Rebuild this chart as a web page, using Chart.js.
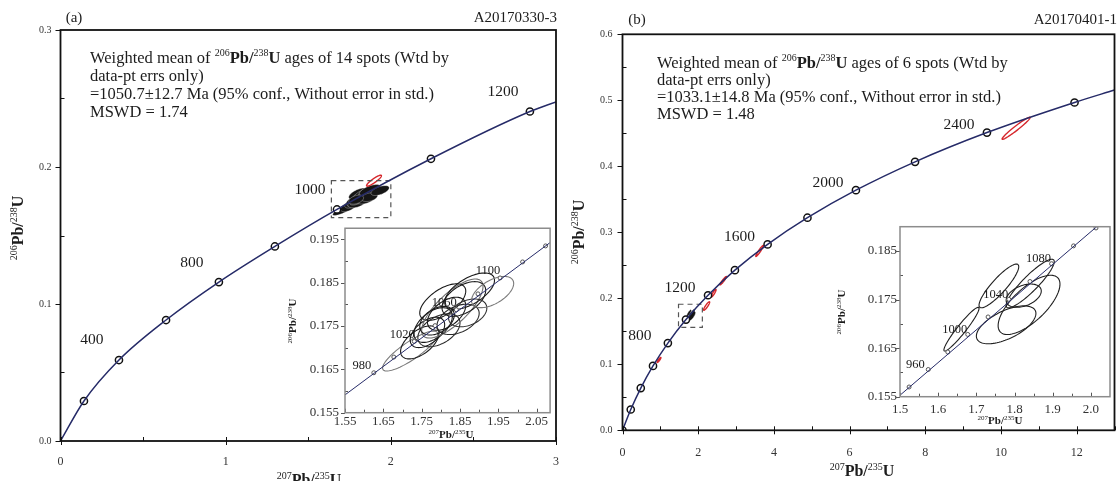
<!DOCTYPE html>
<html>
<head>
<meta charset="utf-8">
<script src="https://cdn.jsdelivr.net/npm/chart.js@4.4.1/dist/chart.umd.min.js"></script>
<style>
  body { margin: 0; background: #fff; width: 1120px; height: 481px; overflow: hidden; position: relative; }
  canvas { position: absolute; }
</style>
</head>
<body>
<canvas id="mainA" width="562" height="481" style="left:0;top:0"></canvas>
<canvas id="mainB" width="554" height="481" style="left:566px;top:0"></canvas>
<canvas id="insetA" width="287" height="240" style="left:270px;top:220px"></canvas>
<canvas id="insetB" width="300" height="210" style="left:815px;top:218px"></canvas>
<script>
// U-Pb concordia plots for two samples, each with a zoomed inset

// ---- (a) A20170330-3 ----
const markA_x = [0.142, 0.354, 0.639, 0.959, 1.298, 1.674, 2.243, 2.842];
const markA_y = [0.0292, 0.0591, 0.0883, 0.1160, 0.1420, 0.1690, 0.2060, 0.2405];
const endA_x = 3.0, endA_y = 0.2475;
const ageTextA = ['400', '800', '1000', '1200'];
const ageIdxA = [1, 3, 5, 7];

// 14 analyses: 207Pb/235U, 206Pb/238U, half-extents and error correlation
const ellA_x   = [1.720, 1.745, 1.765, 1.780, 1.795, 1.805, 1.815, 1.830, 1.845, 1.860, 1.875, 1.870, 1.935, 1.790];
const ellA_sx  = [0.072, 0.050, 0.045, 0.050, 0.055, 0.060, 0.050, 0.080, 0.055, 0.057, 0.065, 0.050, 0.055, 0.045];
const ellA_y   = [0.1692, 0.1712, 0.1735, 0.1752, 0.1740, 0.1805, 0.1778, 0.1790, 0.1765, 0.1812, 0.1830, 0.1780, 0.1828, 0.1762];
const ellA_sy  = [0.0046, 0.0038, 0.0035, 0.0040, 0.0038, 0.0042, 0.0038, 0.0068, 0.0035, 0.0040, 0.0042, 0.0032, 0.0036, 0.0033];
const ellA_rho = [0.85, 0.55, 0.50, 0.50, 0.45, 0.60, 0.50, 0.75, 0.40, 0.50, 0.60, 0.35, 0.55, 0.40];
// excluded spot
const redA_x = [1.898], redA_sx = [0.045], redA_y = [0.190], redA_sy = [0.004], redA_rho = [0.9];
const boxA_x = [1.64, 2.00], boxA_y = [0.163, 0.190];

// inset (a): concordia ticks every 20 Ma
const inA_age = ['980', '1000', '1020', '1040', '1060', '1080', '1100', '1120', '1140'];
const inA_x = [1.6252, 1.6774, 1.7307, 1.7850, 1.8404, 1.8969, 1.9545, 2.0133, 2.0732];
const inA_y = [0.16420, 0.16782, 0.17142, 0.17506, 0.17872, 0.18238, 0.18605, 0.18974, 0.19343];
const inA_lineX = [1.55, 2.085], inA_lineY = [0.1591, 0.1942];
const inA_labelIdx = [0, 2, 4, 6];

// ---- (b) A20170401-1 ----
const markB_age = ['0', '200', '400', '600', '800', '1000', '1200', '1400', '1600', '1800', '2000', '2200', '2400', '2600'];
const markB_x = [0, 0.218, 0.483, 0.806, 1.199, 1.677, 2.260, 2.970, 3.834, 4.887, 6.168, 7.730, 9.630, 11.944];
const markB_y = [0, 0.0315, 0.0640, 0.0975, 0.1321, 0.1678, 0.2046, 0.2426, 0.2817, 0.3221, 0.3638, 0.4068, 0.4511, 0.4967];
const endB_x = 13.0, endB_y = 0.5155;
const ageIdxB = [4, 6, 8, 10, 12];

const ellB_x   = [1.661, 1.759, 1.841, 1.838, 1.824, 1.778];
const ellB_sx  = [0.046, 0.052, 0.063, 0.081, 0.046, 0.078];
const ellB_y   = [0.1689, 0.1778, 0.1783, 0.1739, 0.1758, 0.1698];
const ellB_sy  = [0.0045, 0.0045, 0.0050, 0.0061, 0.0024, 0.0039];
const ellB_rho = [0.95, 0.88, 0.90, 0.70, 0.40, 0.60];
const redB_x   = [0.965, 2.223, 2.406, 2.661, 3.622, 10.40];
const redB_sx  = [0.050, 0.080, 0.066, 0.087, 0.100, 0.370];
const redB_y   = [0.1066, 0.1883, 0.2076, 0.2267, 0.2717, 0.4576];
const redB_sy  = [0.0038, 0.0064, 0.0058, 0.0064, 0.0083, 0.0167];
const redB_rho = [0.90, 0.90, 0.90, 0.95, 0.95, 0.97];
const boxB_x = [1.48, 2.11], boxB_y = [0.156, 0.191];

const inB_age = ['940', '960', '980', '1000', '1020', '1040', '1060', '1080', '1100', '1120'];
const inB_x = [1.5238, 1.5740, 1.6252, 1.6774, 1.7307, 1.7850, 1.8404, 1.8969, 1.9545, 2.0133];
const inB_y = [0.15700, 0.16060, 0.16420, 0.16782, 0.17142, 0.17506, 0.17872, 0.18238, 0.18605, 0.18974];
const inB_lineX = [1.5, 2.03], inB_lineY = [0.1553, 0.1910];
const inB_labelIdx = [1, 3, 5, 7];

// axis ticks: labelled values and unlabelled minor ones
const tickA_x = [0, 1, 2, 3],                 minorA_x = [0.5, 1.5, 2.5];
const tickA_y = [0, 0.1, 0.2, 0.3],           minorA_y = [0.05, 0.15, 0.25];
const tickB_x = [0, 2, 4, 6, 8, 10, 12],      minorB_x = [1, 3, 5, 7, 9, 11, 13];
const tickB_y = [0, 0.1, 0.2, 0.3, 0.4, 0.5, 0.6], minorB_y = [0.05, 0.15, 0.25, 0.35, 0.45, 0.55];
const tickInA_x = [1.55, 1.65, 1.75, 1.85, 1.95, 2.05], minorInA_x = [1.60, 1.70, 1.80, 1.90, 2.00];
const tickInA_y = [0.155, 0.165, 0.175, 0.185, 0.195], minorInA_y = [0.160, 0.170, 0.180, 0.190];
const tickInB_x = [1.5, 1.6, 1.7, 1.8, 1.9, 2.0],      minorInB_x = [1.55, 1.65, 1.75, 1.85, 1.95];
const tickInB_y = [0.155, 0.165, 0.175, 0.185],        minorInB_y = [0.160, 0.170, 0.180];

const SERIF = '"Liberation Serif", "Times New Roman", serif';
const NAVY = '#262b68';
const INK = '#1c1c1c';
const RED = '#d6272c';

const pts = (xs, ys) => xs.map((x, i) => ({ x, y: ys[i] }));
const P = s => [[s, '']];
const ratio = (a, b) => [[a, 's'], ['Pb/', 'b'], [b, 's'], ['U', 'b']];

// text made of normal / bold / superscript pieces; y is the baseline
function rich(ctx, parts, x, y, size, align, rot, color) {
  const fontOf = k => (k.includes('b') ? 'bold ' : '') + (k.includes('s') ? Math.round(size * 0.6) : size) + 'px ' + SERIF;
  let w = 0;
  parts.forEach(([t, k]) => { ctx.font = fontOf(k); w += ctx.measureText(t).width; });
  ctx.save();
  ctx.translate(x, y);
  if (rot) ctx.rotate(rot);
  ctx.fillStyle = color || INK;
  ctx.textAlign = 'left';
  ctx.textBaseline = 'alphabetic';
  let cx = align === 'center' ? -w / 2 : align === 'right' ? -w : 0;
  parts.forEach(([t, k]) => {
    ctx.font = fontOf(k);
    ctx.fillText(t, cx, k.includes('s') ? -size * 0.4 : 0);
    cx += ctx.measureText(t).width;
  });
  ctx.restore();
}

function ellipsePath(ctx, xs, ys, cx, sx, cy, sy, rho) {
  const k = Math.sqrt(1 - rho * rho);
  ctx.beginPath();
  for (let i = 0; i <= 90; i++) {
    const t = i / 90 * Math.PI * 2;
    const px = xs.getPixelForValue(cx + sx * Math.cos(t));
    const py = ys.getPixelForValue(cy + sy * (rho * Math.cos(t) + k * Math.sin(t)));
    if (i) ctx.lineTo(px, py); else ctx.moveTo(px, py);
  }
  ctx.closePath();
}

// per-canvas decoration settings (kept outside chart options)
const decoConf = {};

const decor = {
  id: 'decor',
  beforeDatasetsDraw(chart) {
    const o = decoConf[chart.canvas.id];
    const { ctx, chartArea: a, scales: { x, y } } = chart;
    ctx.save();
    ctx.beginPath();
    ctx.rect(a.left, a.top, a.right - a.left, a.bottom - a.top);
    ctx.clip();
    (o.ellipses || []).forEach(s => {
      s.x.forEach((cx, i) => {
        ellipsePath(ctx, x, y, cx, s.sx[i], s.y[i], s.sy[i], s.rho[i]);
        if (s.fill) { ctx.fillStyle = s.fill; ctx.fill(); }
        ctx.strokeStyle = s.tones ? s.tones[i] : s.stroke;
        ctx.lineWidth = s.lw;
        ctx.stroke();
      });
    });
    (o.boxes || []).forEach(b => {
      const x0 = x.getPixelForValue(b.x[0]), x1 = x.getPixelForValue(b.x[1]);
      const y0 = y.getPixelForValue(b.y[0]), y1 = y.getPixelForValue(b.y[1]);
      ctx.setLineDash([5, 4]);
      ctx.strokeStyle = '#555';
      ctx.lineWidth = 1.2;
      ctx.strokeRect(x0, y1, x1 - x0, y0 - y1);
      ctx.setLineDash([]);
    });
    ctx.restore();
  },
  afterDraw(chart) {
    const o = decoConf[chart.canvas.id];
    const { ctx, chartArea: a, scales } = chart;
    ctx.save();
    // tick marks: labelled ticks are major
    ctx.strokeStyle = o.tickColor;
    ctx.lineWidth = 1;
    ['x', 'y'].forEach(id => {
      const sc = scales[id], st = o.ticks[id];
      sc.ticks.forEach(t => {
        const p = Math.round(sc.getPixelForValue(t.value)) + 0.5;
        const [out, inn] = t.label ? st.major : st.minor;
        ctx.beginPath();
        if (id === 'x') { ctx.moveTo(p, a.bottom + out); ctx.lineTo(p, a.bottom - inn); }
        else { ctx.moveTo(a.left - out, p); ctx.lineTo(a.left + inn, p); }
        ctx.stroke();
      });
    });
    ctx.strokeStyle = o.frame.color;
    ctx.lineWidth = o.frame.width;
    ctx.strokeRect(a.left, a.top, a.right - a.left, a.bottom - a.top);
    if (o.ages) {
      const g = o.ages;
      g.idx.forEach((i, n) => {
        const px = scales.x.getPixelForValue(g.x[i]) + g.dx;
        const py = scales.y.getPixelForValue(g.y[i]) + g.dy;
        rich(ctx, P(g.text[n]), px, py + g.size * 0.35, g.size, 'center');
      });
    }
    (o.texts || []).forEach(t => rich(ctx, t.parts, t.x, t.y, t.size, t.align, t.rot));
    ctx.restore();
  }
};

function axis(min, max, major, minor, digits, size, pad, prop, fit) {
  const near = v => major.some(m => Math.abs(m - v) < 1e-9);
  return {
    type: 'linear', min, max,
    afterBuildTicks: sc => {
      sc.ticks = major.concat(minor).sort((p, q) => p - q).map(value => ({ value }));
    },
    ticks: { callback: v => near(v) ? v.toFixed(digits) : '', autoSkip: false, maxRotation: 0,
             font: { family: SERIF, size }, color: '#333', padding: pad },
    grid: { display: false, drawTicks: false },
    border: { display: false },
    afterFit: sc => {
      sc[prop] = fit;
      sc.paddingLeft = sc.paddingRight = sc.paddingTop = sc.paddingBottom = 0;
    }
  };
}

function build(id, padding, xAxis, yAxis, datasets, deco) {
  decoConf[id] = deco;
  return new Chart(document.getElementById(id), {
    type: 'scatter',
    data: { datasets },
    options: {
      responsive: false, animation: false, devicePixelRatio: 1,
      layout: { padding },
      scales: { x: xAxis, y: yAxis },
      plugins: { legend: { display: false }, tooltip: { enabled: false } }
    },
    plugins: [decor]
  });
}

function curveSet(data, width) {
  return { data, showLine: true, borderColor: NAVY, borderWidth: width, pointRadius: 0,
           cubicInterpolationMode: 'monotone' };
}
function markerSet(data, r, border) {
  return { data, showLine: false, pointRadius: r, pointBackgroundColor: '#fff',
           pointBorderColor: border, pointBorderWidth: r > 3 ? 1.5 : 1 };
}

const mainTicks = { x: { major: [4, 4], minor: [0, 4] }, y: { major: [5, 0], minor: [0, 4] } };
const insetTicks = { x: { major: [0, 4], minor: [0, 3] }, y: { major: [4, 0], minor: [0, 3] } };
const TXT = 16.5;

// (a) main
build('mainA', { left: 0, top: 30, right: 6, bottom: 0 },
  axis(0, 3, tickA_x, minorA_x, 0, 12, 14, 'height', 40),
  axis(0, 0.3, tickA_y, minorA_y, 1, 10, 9, 'width', 60.5),
  [curveSet([{ x: 0, y: 0 }, ...pts(markA_x, markA_y), { x: endA_x, y: endA_y }], 1.5),
   markerSet(pts(markA_x, markA_y), 3.6, '#111')],
  {
    tickColor: '#111', ticks: mainTicks, frame: { color: '#111', width: 1.8 },
    ellipses: [
      { x: ellA_x, sx: ellA_sx, y: ellA_y, sy: ellA_sy, rho: ellA_rho, fill: '#151515', stroke: 'rgba(255,255,255,0.55)', lw: 0.6 },
      { x: redA_x, sx: redA_sx, y: redA_y, sy: redA_sy, rho: redA_rho, stroke: RED, lw: 1.4 }
    ],
    boxes: [{ x: boxA_x, y: boxA_y }],
    ages: { x: markA_x, y: markA_y, idx: ageIdxA, text: ageTextA, dx: -27, dy: -21, size: 15.5 },
    texts: [
      { parts: P('(a)'), x: 74, y: 22, size: 15, align: 'center' },
      { parts: P('A20170330-3'), x: 557, y: 22, size: 15, align: 'right' },
      { parts: [['Weighted mean of ', ''], ...ratio('206', '238'), [' ages of 14 spots (Wtd by', '']], x: 90, y: 63, size: TXT },
      { parts: P('data-pt errs only)'), x: 90, y: 81, size: TXT },
      { parts: P('=1050.7\u00b112.7 Ma (95% conf., Without error in std.)'), x: 90, y: 99, size: TXT },
      { parts: P('MSWD = 1.74'), x: 90, y: 117, size: TXT },
      { parts: ratio('206', '238'), x: 23, y: 228, size: 16, align: 'center', rot: -Math.PI / 2 },
      { parts: ratio('207', '235'), x: 309, y: 485, size: 16, align: 'center' }
    ]
  });

// (a) inset
build('insetA', { left: 0, top: 8.25, right: 6.9, bottom: 0 },
  axis(1.55, 2.085, tickInA_x, minorInA_x, 2, 13, 1, 'height', 47.3),
  axis(0.155, 0.1975, tickInA_y, minorInA_y, 3, 13, 6, 'width', 75),
  [curveSet(pts(inA_lineX, inA_lineY), 1),
   markerSet(pts(inA_x, inA_y), 2, '#555')],
  {
    tickColor: '#555', ticks: insetTicks, frame: { color: '#8c8c8c', width: 1.5 },
    ellipses: [
      { x: ellA_x, sx: ellA_sx, y: ellA_y, sy: ellA_sy, rho: ellA_rho, lw: 1.1,
        tones: ['#7a7a7a', '#1a1a1a', '#1a1a1a', '#1a1a1a', '#2a2a2a', '#1a1a1a', '#1a1a1a',
                '#6e6e6e', '#2a2a2a', '#1a1a1a', '#1a1a1a', '#333', '#7a7a7a', '#1a1a1a'] }
    ],
    ages: { x: inA_x, y: inA_y, idx: inA_labelIdx, text: inA_labelIdx.map(i => inA_age[i]), dx: -12, dy: -8, size: 12.5 },
    texts: [
      { parts: ratio('206', '238'), x: 26, y: 101, size: 11, align: 'center', rot: -Math.PI / 2 },
      { parts: ratio('207', '235'), x: 181, y: 218, size: 11, align: 'center' }
    ]
  });

// (b) main
build('mainB', { left: 0, top: 34.3, right: 1.5, bottom: 0 },
  axis(0, 13, tickB_x, minorB_x, 0, 12, 15, 'height', 50.7),
  axis(0, 0.6, tickB_y, minorB_y, 1, 10, 10, 'width', 56.5),
  [curveSet([...pts(markB_x, markB_y), { x: endB_x, y: endB_y }], 1.5),
   markerSet(pts(markB_x, markB_y), 3.6, '#111')],
  {
    tickColor: '#111', ticks: mainTicks, frame: { color: '#111', width: 1.8 },
    ellipses: [
      { x: ellB_x, sx: ellB_sx, y: ellB_y, sy: ellB_sy, rho: ellB_rho, fill: '#151515', stroke: '#151515', lw: 0.6 },
      { x: redB_x, sx: redB_sx, y: redB_y, sy: redB_sy, rho: redB_rho, stroke: RED, lw: 1.4 }
    ],
    boxes: [{ x: boxB_x, y: boxB_y }],
    ages: { x: markB_x, y: markB_y, idx: ageIdxB, text: ageIdxB.map(i => markB_age[i]), dx: -28, dy: -9, size: 15.5 },
    texts: [
      { parts: P('(b)'), x: 71, y: 24, size: 15, align: 'center' },
      { parts: P('A20170401-1'), x: 551, y: 24, size: 15, align: 'right' },
      { parts: [['Weighted mean of ', ''], ...ratio('206', '238'), [' ages of 6 spots (Wtd by', '']], x: 91, y: 68, size: TXT },
      { parts: P('data-pt errs only)'), x: 91, y: 85, size: TXT },
      { parts: P('=1033.1\u00b114.8 Ma (95% conf., Without error in std.)'), x: 91, y: 102, size: TXT },
      { parts: P('MSWD = 1.48'), x: 91, y: 119, size: TXT },
      { parts: ratio('206', '238'), x: 18, y: 232, size: 16, align: 'center', rot: -Math.PI / 2 },
      { parts: ratio('207', '235'), x: 296, y: 476, size: 16, align: 'center' }
    ]
  });

// (b) inset
build('insetB', { left: 0, top: 8.7, right: 4.2, bottom: 0 },
  axis(1.5, 2.05, tickInB_x, minorInB_x, 1, 13, 5, 'height', 31.3),
  axis(0.155, 0.19, tickInB_y, minorInB_y, 3, 13, 3, 'width', 85),
  [curveSet(pts(inB_lineX, inB_lineY), 1),
   markerSet(pts(inB_x, inB_y), 2, '#555')],
  {
    tickColor: '#555', ticks: insetTicks, frame: { color: '#8c8c8c', width: 1.5 },
    ellipses: [
      { x: ellB_x, sx: ellB_sx, y: ellB_y, sy: ellB_sy, rho: ellB_rho, stroke: '#1f1f1f', lw: 1.1 }
    ],
    ages: { x: inB_x, y: inB_y, idx: inB_labelIdx, text: inB_labelIdx.map(i => inB_age[i]), dx: -13, dy: -6, size: 12.5 },
    texts: [
      { parts: ratio('206', '238'), x: 30, y: 94, size: 11, align: 'center', rot: -Math.PI / 2 },
      { parts: ratio('207', '235'), x: 185, y: 206, size: 11, align: 'center' }
    ]
  });
</script>
</body>
</html>
